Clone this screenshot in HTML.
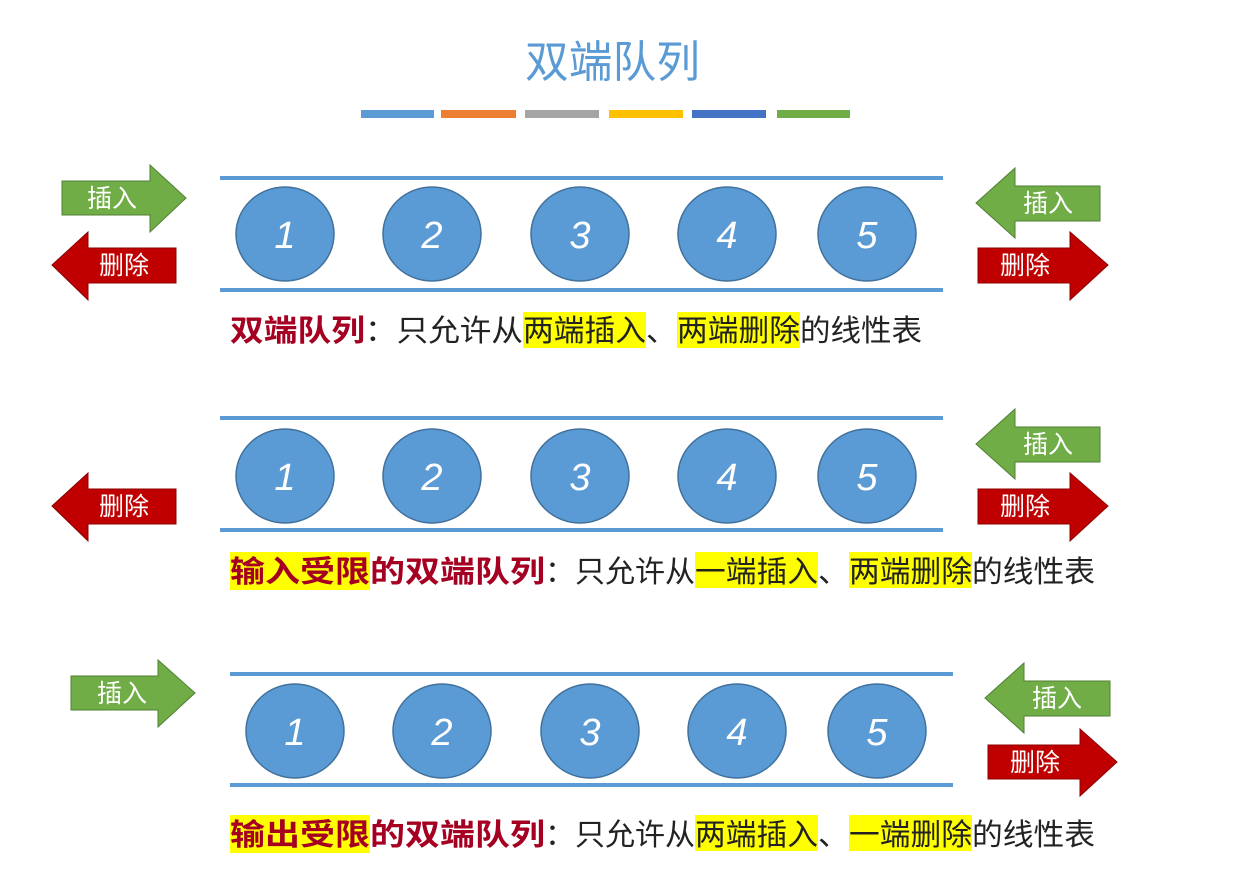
<!DOCTYPE html>
<html><head><meta charset="utf-8"><style>
body{margin:0;background:#fff;width:1259px;height:865px;overflow:hidden}
svg text{font-family:"Liberation Sans","Noto Sans CJK SC",sans-serif}
</style></head><body>
<svg width="1259" height="865" viewBox="0 0 1259 865" xmlns="http://www.w3.org/2000/svg">
<defs>
<g id="circ"><ellipse cx="0" cy="0" rx="49" ry="47" fill="#5b9bd5" stroke="#41719c" stroke-width="1.5"/></g>
</defs>
<text x="525" y="77" textLength="175" lengthAdjust="spacingAndGlyphs" font-size="44" fill="#5b9bd5">双端队列</text>
<rect x="361" y="110" width="73" height="8" fill="#5b9bd5"/>
<rect x="441" y="110" width="75" height="8" fill="#ed7d31"/>
<rect x="525" y="110" width="74" height="8" fill="#a5a5a5"/>
<rect x="609" y="110" width="74" height="8" fill="#ffc000"/>
<rect x="692" y="110" width="74" height="8" fill="#4472c4"/>
<rect x="777" y="110" width="73" height="8" fill="#70ad47"/>

<g font-size="25" fill="#fff" text-anchor="middle">
<path d="M62 181 H150 V165 L186 198 L150 232 V215 H62 Z" fill="#70ad47" stroke="#507e32"/>
<text x="112" y="207">插入</text>
<path d="M52 265 L88 232 V248 H176 V283 H88 V300 Z" fill="#c00000" stroke="#8b0000"/>
<text x="124" y="274">删除</text>
<path d="M976 203 L1015 168 V186 H1100 V221 H1015 V238 Z" fill="#70ad47" stroke="#507e32"/>
<text x="1048" y="212">插入</text>
<path d="M978 248 H1070 V232 L1108 265 L1070 300 V283 H978 Z" fill="#c00000" stroke="#8b0000"/>
<text x="1025" y="274">删除</text>
<path d="M52 506 L88 473 V489 H176 V524 H88 V541 Z" fill="#c00000" stroke="#8b0000"/>
<text x="124" y="515">删除</text>
<path d="M976 444 L1015 409 V427 H1100 V462 H1015 V479 Z" fill="#70ad47" stroke="#507e32"/>
<text x="1048" y="453">插入</text>
<path d="M978 489 H1070 V473 L1108 506 L1070 541 V524 H978 Z" fill="#c00000" stroke="#8b0000"/>
<text x="1025" y="515">删除</text>
<path d="M71 676 H158 V660 L195 693 L158 727 V710 H71 Z" fill="#70ad47" stroke="#507e32"/>
<text x="122" y="702">插入</text>
<path d="M985 698 L1024 663 V681 H1110 V716 H1024 V733 Z" fill="#70ad47" stroke="#507e32"/>
<text x="1057" y="707">插入</text>
<path d="M988 745 H1080 V729 L1117 762 L1080 796 V779 H988 Z" fill="#c00000" stroke="#8b0000"/>
<text x="1035" y="771">删除</text>
</g>

<g stroke="#5b9bd5" stroke-width="4">
<line x1="220" y1="178" x2="943" y2="178"/><line x1="220" y1="290" x2="943" y2="290"/>
<line x1="220" y1="418" x2="943" y2="418"/><line x1="220" y1="530" x2="943" y2="530"/>
<line x1="230" y1="674" x2="953" y2="674"/><line x1="230" y1="785" x2="953" y2="785"/>
</g>

<g font-size="38" fill="#fff" text-anchor="middle" font-style="italic">
<use href="#circ" x="285" y="234"/><use href="#circ" x="432" y="234"/><use href="#circ" x="580" y="234"/><use href="#circ" x="727" y="234"/><use href="#circ" x="867" y="234"/>
<text x="285" y="248">1</text><text x="432" y="248">2</text><text x="580" y="248">3</text><text x="727" y="248">4</text><text x="867" y="248">5</text>
<use href="#circ" x="285" y="476"/><use href="#circ" x="432" y="476"/><use href="#circ" x="580" y="476"/><use href="#circ" x="727" y="476"/><use href="#circ" x="867" y="476"/>
<text x="285" y="490">1</text><text x="432" y="490">2</text><text x="580" y="490">3</text><text x="727" y="490">4</text><text x="867" y="490">5</text>
<use href="#circ" x="295" y="731"/><use href="#circ" x="442" y="731"/><use href="#circ" x="590" y="731"/><use href="#circ" x="737" y="731"/><use href="#circ" x="877" y="731"/>
<text x="295" y="745">1</text><text x="442" y="745">2</text><text x="590" y="745">3</text><text x="737" y="745">4</text><text x="877" y="745">5</text>
</g>

<g fill="#ffff00">
<rect x="523" y="312" width="123" height="36"/><rect x="677" y="312" width="123" height="36"/>
<rect x="230" y="552" width="140" height="38"/><rect x="695" y="552" width="123" height="36"/><rect x="849" y="552" width="123" height="36"/>
<rect x="230" y="815" width="140" height="38"/><rect x="695" y="815" width="123" height="36"/><rect x="849" y="815" width="123" height="36"/>
</g>
<g font-size="30" lengthAdjust="spacingAndGlyphs">
<text x="230" y="341" textLength="135" lengthAdjust="spacingAndGlyphs" fill="#a50021" font-weight="bold">双端队列</text>
<text x="365" y="341" textLength="158" lengthAdjust="spacingAndGlyphs" fill="#222">：只允许从</text>
<text x="523" y="341" textLength="123" lengthAdjust="spacingAndGlyphs" fill="#222">两端插入</text>
<text x="646" y="341" textLength="31" lengthAdjust="spacingAndGlyphs" fill="#222">、</text>
<text x="677" y="341" textLength="123" lengthAdjust="spacingAndGlyphs" fill="#222">两端删除</text>
<text x="800" y="341" textLength="122" lengthAdjust="spacingAndGlyphs" fill="#222">的线性表</text>

<text x="230" y="582" textLength="140" lengthAdjust="spacingAndGlyphs" fill="#a50021" font-weight="bold">输入受限</text>
<text x="370" y="582" textLength="175" lengthAdjust="spacingAndGlyphs" fill="#a50021" font-weight="bold">的双端队列</text>
<text x="545" y="582" textLength="150" lengthAdjust="spacingAndGlyphs" fill="#222">：只允许从</text>
<text x="695" y="582" textLength="123" lengthAdjust="spacingAndGlyphs" fill="#222">一端插入</text>
<text x="818" y="582" textLength="31" lengthAdjust="spacingAndGlyphs" fill="#222">、</text>
<text x="849" y="582" textLength="123" lengthAdjust="spacingAndGlyphs" fill="#222">两端删除</text>
<text x="972" y="582" textLength="123" lengthAdjust="spacingAndGlyphs" fill="#222">的线性表</text>

<text x="230" y="845" textLength="140" lengthAdjust="spacingAndGlyphs" fill="#a50021" font-weight="bold">输出受限</text>
<text x="370" y="845" textLength="175" lengthAdjust="spacingAndGlyphs" fill="#a50021" font-weight="bold">的双端队列</text>
<text x="545" y="845" textLength="150" lengthAdjust="spacingAndGlyphs" fill="#222">：只允许从</text>
<text x="695" y="845" textLength="123" lengthAdjust="spacingAndGlyphs" fill="#222">两端插入</text>
<text x="818" y="845" textLength="31" lengthAdjust="spacingAndGlyphs" fill="#222">、</text>
<text x="849" y="845" textLength="123" lengthAdjust="spacingAndGlyphs" fill="#222">一端删除</text>
<text x="972" y="845" textLength="123" lengthAdjust="spacingAndGlyphs" fill="#222">的线性表</text>
</g>
</svg>
</body></html>
